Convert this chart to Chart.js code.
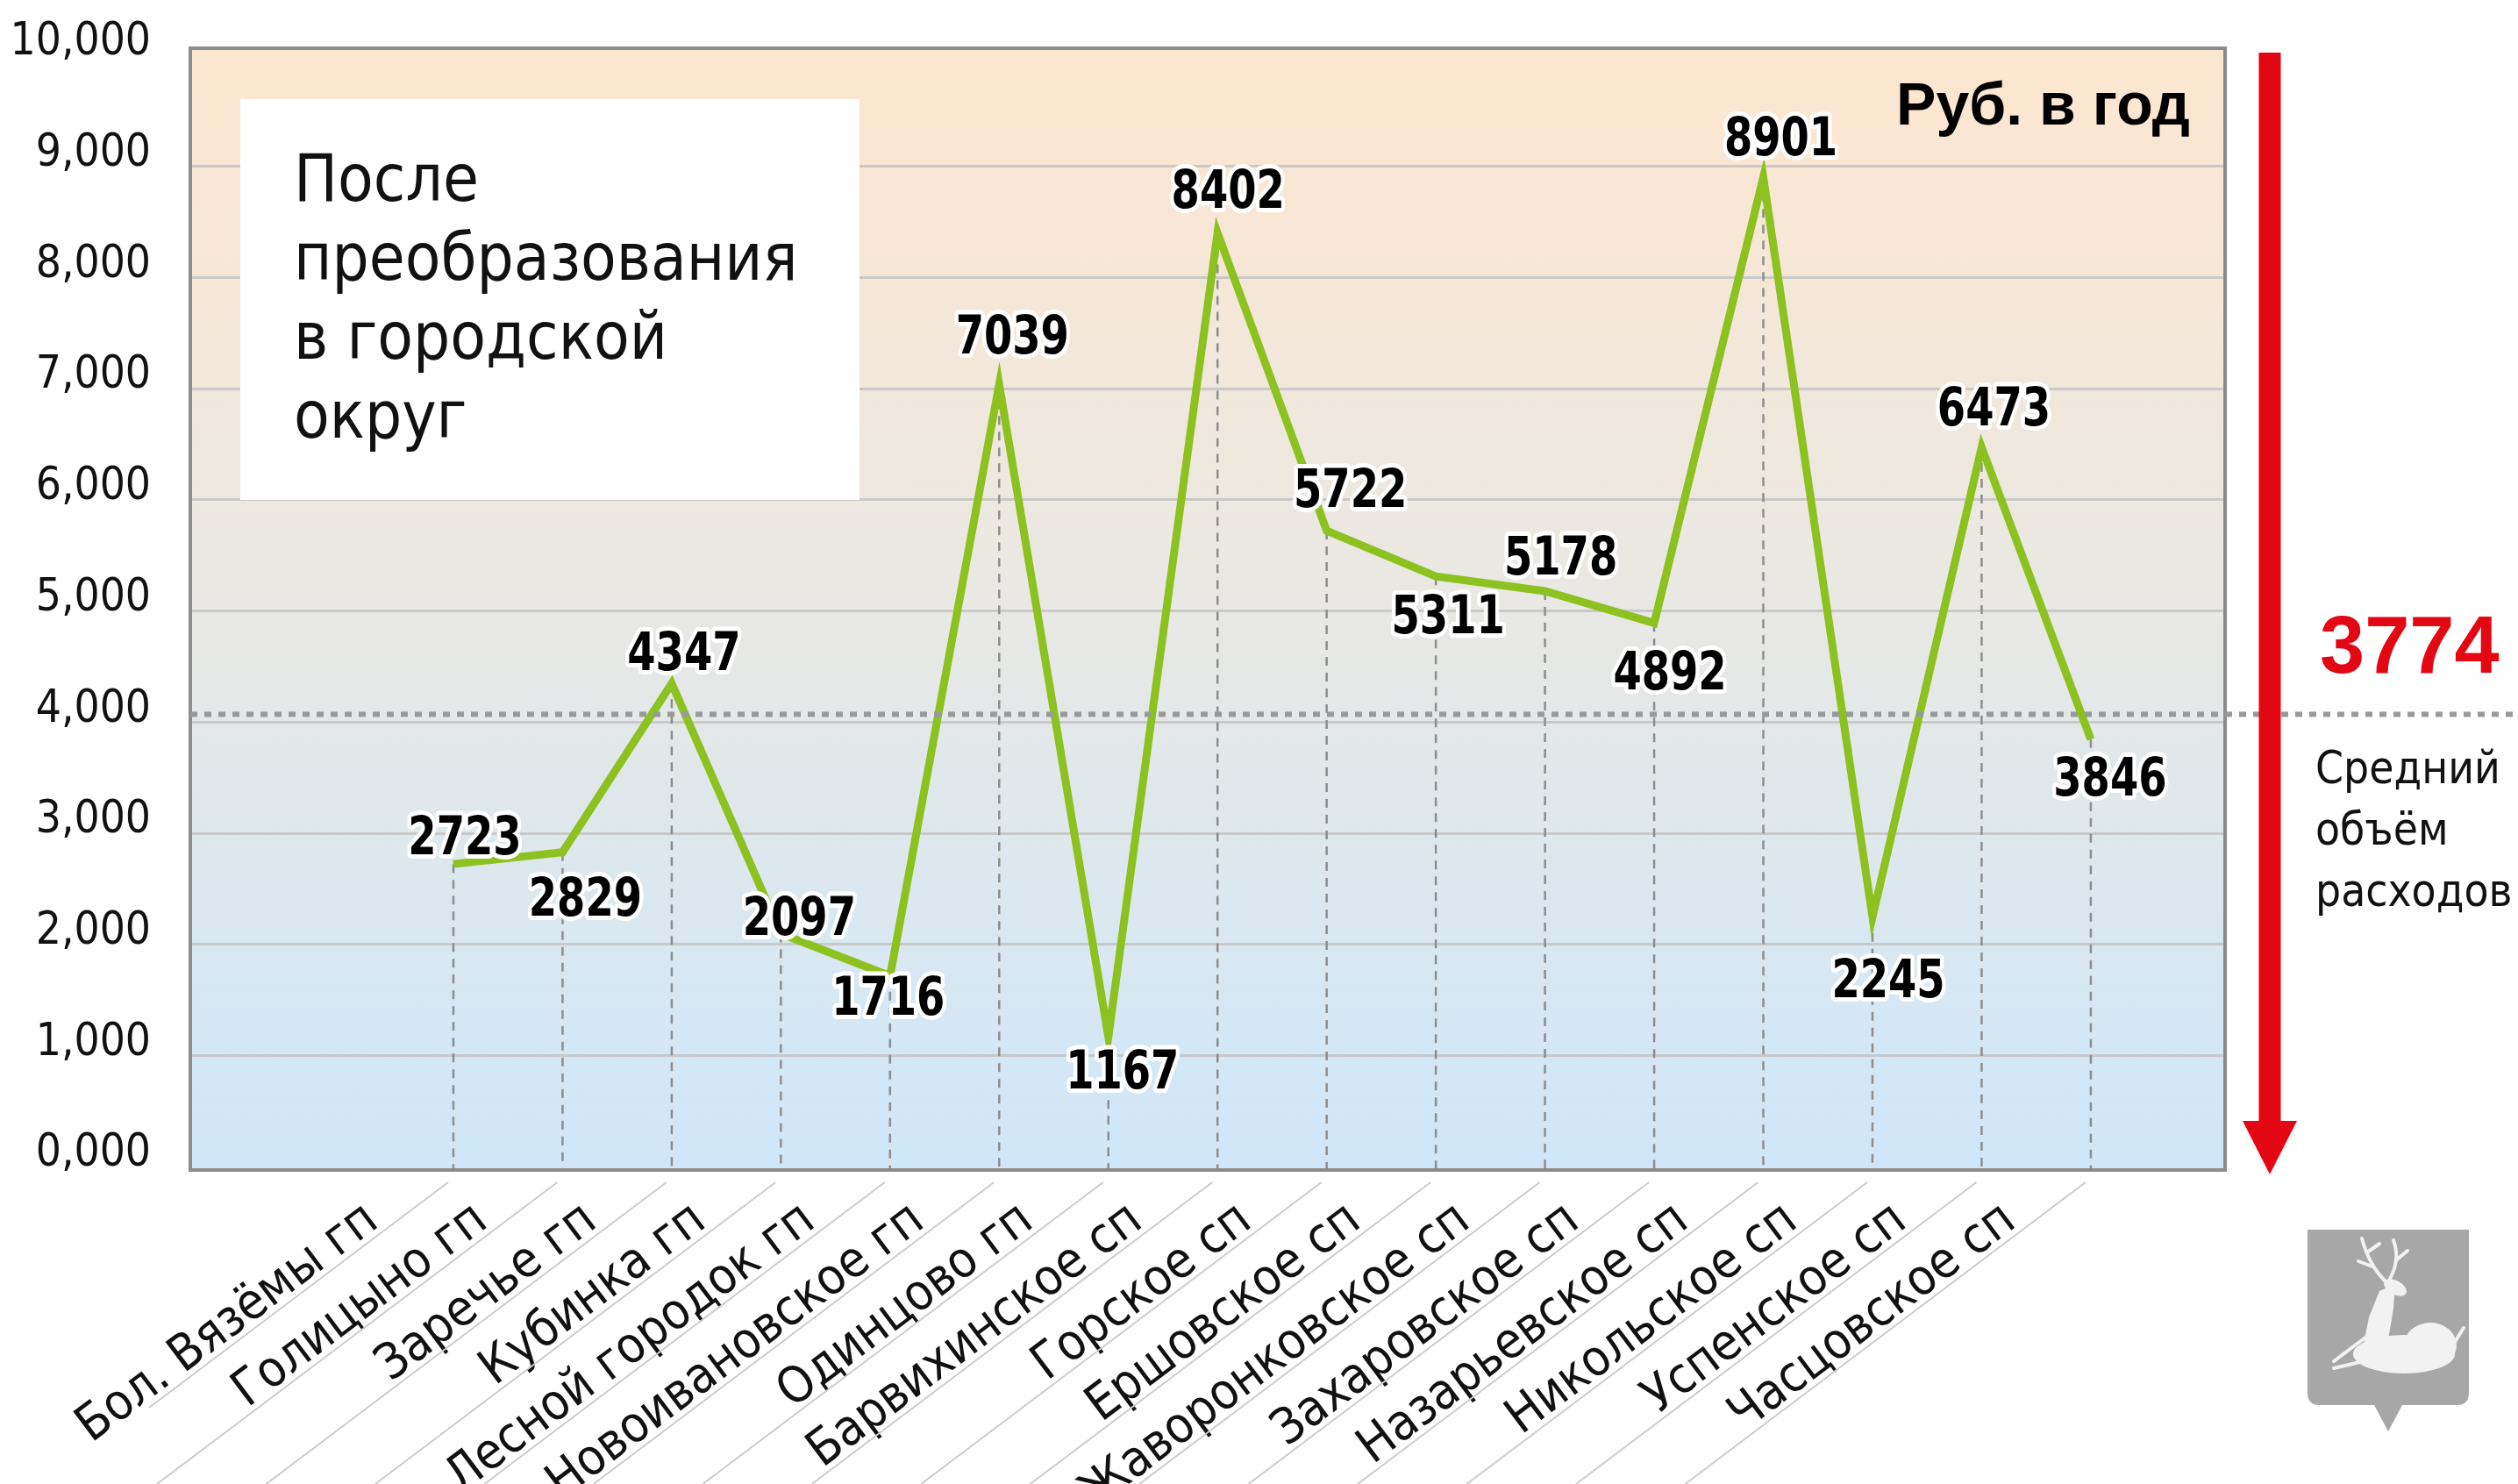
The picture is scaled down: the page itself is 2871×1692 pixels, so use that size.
<!DOCTYPE html>
<html>
<head>
<meta charset="utf-8">
<script src="https://cdn.jsdelivr.net/npm/chart.js@4.4.1/dist/chart.umd.min.js"></script>
<style>
    html, body { margin: 0; padding: 0; background: #fff; }
    #wrap { width: 2871px; height: 1692px; }
</style>
</head>
<body>
<div id="wrap"><canvas id="spendChart" width="2871" height="1692"></canvas></div>
<script>

    // =========================================
    // DATA
    // =========================================

    var categories = [
        "Бол. Вязёмы гп", "Голицыно гп", "Заречье гп", "Кубинка гп",
        "Лесной городок гп", "Новоивановское гп", "Одинцово гп", "Барвихинское сп",
        "Горское сп", "Ершовское сп", "Жаворонковское сп", "Захаровское сп",
        "Назарьевское сп", "Никольское сп", "Успенское сп", "Часцовское сп"
    ];

    var spending = [2723, 2829, 4347, 2097, 1716, 7039, 1167, 8402, 5722, 5311, 5178, 4892, 8901, 2245, 6473, 3846];

    var yTicks = [0, 1000, 2000, 3000, 4000, 5000, 6000, 7000, 8000, 9000, 10000];

    var averageText = "3774";
    var averageLineLevel = 4070;   // where the dotted line sits in the picture
    var averageCaption = ["Средний", "объём", "расходов"];
    var unitText = "Руб. в год";
    var boxLines = ["После", "преобразования", "в городской", "округ"];

    // label nudges in px (styling, not data)
    var labelNudge = [
        [13, -29], [26, 55], [14, -33], [21, -16], [-2, 27], [15, -53], [16, 41], [12, -46],
        [27, -45], [14, 47], [18, -37], [18, 58], [20, -43], [18, 74], [14, -43], [22, 47]
    ];

    var FONT = "'DejaVu Sans Condensed', 'DejaVu Sans', sans-serif";

    // =========================================
    // PLUGINS
    // =========================================

    var backgroundPlugin = {
        id: "backgroundPlugin",
        beforeDraw: function (chart) {
            var a = chart.chartArea;
            var ctx = chart.ctx;
            ctx.save();
            ctx.fillStyle = "#ffffff";
            ctx.fillRect(0, 0, chart.width, chart.height);
            var g = ctx.createLinearGradient(0, a.top, 0, a.bottom);
            g.addColorStop(0, "#fde6cf");
            g.addColorStop(0.45, "#ebe8e2");
            g.addColorStop(1, "#cfe7f9");
            ctx.fillStyle = g;
            ctx.fillRect(a.left, a.top, a.right - a.left, a.bottom - a.top);
            ctx.restore();
        }
    };

    var underlayPlugin = {
        id: "underlayPlugin",
        beforeDatasetsDraw: function (chart) {
            var a = chart.chartArea;
            var ctx = chart.ctx;
            var meta = chart.getDatasetMeta(0);

            ctx.save();

            // white caption box
            ctx.fillStyle = "#ffffff";
            ctx.fillRect(a.left + 57, a.top + 58, 706, 457);
            ctx.fillStyle = "#111111";
            ctx.font = "74px " + FONT;
            ctx.textAlign = "left";
            ctx.textBaseline = "alphabetic";
            boxLines.forEach(function (line, i) {
                ctx.fillText(line, a.left + 118, a.top + 174 + i * 90);
            });

            // dashed drop lines
            ctx.strokeStyle = "#8d8d8d";
            ctx.lineWidth = 2.5;
            ctx.setLineDash([10, 8]);
            meta.data.forEach(function (pt) {
                ctx.beginPath();
                ctx.moveTo(pt.x, pt.y);
                ctx.lineTo(pt.x, a.bottom);
                ctx.stroke();
            });
            ctx.setLineDash([]);

            ctx.restore();
        }
    };

    var overlayPlugin = {
        id: "overlayPlugin",
        afterDatasetsDraw: function (chart) {
            var a = chart.chartArea;
            var ctx = chart.ctx;
            var meta = chart.getDatasetMeta(0);
            var yScale = chart.scales.y;
            var xScale = chart.scales.x;

            ctx.save();

            // plot frame
            ctx.strokeStyle = "#8c8c8c";
            ctx.lineWidth = 4;
            ctx.strokeRect(a.left, a.top, a.right - a.left, a.bottom - a.top);

            // diagonal guide lines under category labels
            var ang = 37 * Math.PI / 180;
            ctx.strokeStyle = "#cccccc";
            ctx.lineWidth = 2;
            categories.forEach(function (c, i) {
                var x0 = xScale.getPixelForValue(i) - 6;
                var y0 = a.bottom + 14;
                var len = Math.min((chart.height - y0) / Math.sin(ang), (x0 - 170) / Math.cos(ang));
                ctx.beginPath();
                ctx.moveTo(x0, y0);
                ctx.lineTo(x0 - len * Math.cos(ang), y0 + len * Math.sin(ang));
                ctx.stroke();
            });

            // dotted average line
            var yAvg = yScale.getPixelForValue(averageLineLevel);
            ctx.strokeStyle = "#999999";
            ctx.lineWidth = 6;
            ctx.setLineDash([8, 8]);
            ctx.beginPath();
            ctx.moveTo(a.left, yAvg);
            ctx.lineTo(chart.width, yAvg);
            ctx.stroke();
            ctx.setLineDash([]);

            // value labels (bold, narrowed, white halo)
            ctx.font = "bold 60px " + FONT;
            ctx.textAlign = "center";
            ctx.textBaseline = "middle";
            ctx.lineJoin = "round";
            meta.data.forEach(function (pt, i) {
                var lx = pt.x + labelNudge[i][0];
                var ly = pt.y + labelNudge[i][1];
                ctx.save();
                ctx.translate(lx, ly);
                ctx.scale(0.86, 1);
                ctx.strokeStyle = "#ffffff";
                ctx.lineWidth = 10;
                ctx.strokeText(String(spending[i]), 0, 2);
                ctx.fillStyle = "#000000";
                ctx.fillText(String(spending[i]), 0, 2);
                ctx.restore();
            });

            // unit
            ctx.font = "bold 68px 'Liberation Sans', Arial, sans-serif";
            ctx.textAlign = "right";
            ctx.textBaseline = "alphabetic";
            ctx.fillStyle = "#000000";
            ctx.fillText(unitText, a.right - 40, a.top + 87);

            // red arrow
            var ax = a.right + 51;
            ctx.fillStyle = "#e30613";
            ctx.fillRect(ax - 12.5, a.top + 5, 25, a.bottom - 56 - a.top - 5);
            ctx.beginPath();
            ctx.moveTo(ax - 31, a.bottom - 56);
            ctx.lineTo(ax + 31, a.bottom - 56);
            ctx.lineTo(ax, a.bottom + 5);
            ctx.closePath();
            ctx.fill();

            // average value and caption
            ctx.font = "bold 92px 'Liberation Sans', Arial, sans-serif";
            ctx.textAlign = "left";
            ctx.fillStyle = "#e30613";
            ctx.fillText(averageText, a.right + 108, 767);

            ctx.font = "51px " + FONT;
            ctx.fillStyle = "#111111";
            averageCaption.forEach(function (line, i) {
                ctx.fillText(line, a.right + 103, 893 + i * 70);
            });

            // emblem
            drawEmblem(ctx, a.right + 94, 1402);

            ctx.restore();
        }
    };

    function drawEmblem(ctx, x, y) {
        var w = 184, h = 200;
        ctx.save();
        ctx.fillStyle = "#a7a7a7";
        ctx.beginPath();
        ctx.moveTo(x, y);
        ctx.lineTo(x + w, y);
        ctx.lineTo(x + w, y + h - 14);
        ctx.quadraticCurveTo(x + w, y + h, x + w - 14, y + h);
        ctx.lineTo(x + w / 2 + 16, y + h);
        ctx.lineTo(x + w / 2, y + h + 30);
        ctx.lineTo(x + w / 2 - 16, y + h);
        ctx.lineTo(x + 14, y + h);
        ctx.quadraticCurveTo(x, y + h, x, y + h - 14);
        ctx.closePath();
        ctx.fill();

        // simplified lying deer
        ctx.fillStyle = "#f2f2f2";
        ctx.strokeStyle = "#f2f2f2";
        ctx.lineCap = "round";
        ctx.beginPath();
        ctx.ellipse(x + 110, y + 142, 58, 22, 0, 0, Math.PI * 2);
        ctx.fill();
        ctx.beginPath();
        ctx.ellipse(x + 140, y + 132, 30, 26, 0, 0, Math.PI * 2);
        ctx.fill();
        ctx.beginPath();
        ctx.moveTo(x + 62, y + 140);
        ctx.lineTo(x + 70, y + 100);
        ctx.lineTo(x + 82, y + 70);
        ctx.lineTo(x + 100, y + 62);
        ctx.lineTo(x + 98, y + 90);
        ctx.lineTo(x + 92, y + 125);
        ctx.closePath();
        ctx.fill();
        ctx.beginPath();
        ctx.ellipse(x + 100, y + 66, 14, 8, 0.5, 0, Math.PI * 2);
        ctx.fill();
        ctx.lineWidth = 4;
        ctx.beginPath();
        ctx.moveTo(x + 88, y + 58);
        ctx.quadraticCurveTo(x + 70, y + 40, x + 62, y + 10);
        ctx.moveTo(x + 74, y + 42);
        ctx.lineTo(x + 58, y + 36);
        ctx.moveTo(x + 68, y + 26);
        ctx.lineTo(x + 82, y + 16);
        ctx.moveTo(x + 94, y + 56);
        ctx.quadraticCurveTo(x + 106, y + 34, x + 98, y + 12);
        ctx.moveTo(x + 102, y + 34);
        ctx.lineTo(x + 114, y + 24);
        ctx.moveTo(x + 64, y + 150);
        ctx.lineTo(x + 30, y + 158);
        ctx.moveTo(x + 70, y + 120);
        ctx.lineTo(x + 30, y + 150);
        ctx.moveTo(x + 168, y + 128);
        ctx.lineTo(x + 178, y + 112);
        ctx.stroke();
        ctx.restore();
    }

    // =========================================
    // CHART
    // =========================================

    var canvas = document.getElementById("spendChart");

    var spendChart = new Chart(canvas, {

        type: "line",

        data: {
            datasets: [{
                data: spending.map(function (v, i) { return { x: i, y: v }; }),
                borderColor: "#8dc11f",
                borderWidth: 9,
                borderJoinStyle: "miter",
                borderCapStyle: "butt",
                pointRadius: 0,
                pointHoverRadius: 0,
                tension: 0,
                fill: false
            }]
        },

        options: {
            responsive: false,
            maintainAspectRatio: false,
            animation: false,
            devicePixelRatio: 1,
            events: [],

            layout: {
                padding: { top: 55, right: 334, bottom: 0, left: 0 }
            },

            plugins: {
                legend: { display: false },
                tooltip: { enabled: false },
                title: { display: false }
            },

            scales: {
                x: {
                    type: "linear",
                    position: "bottom",
                    min: -2.41,
                    max: 16.23,
                    afterBuildTicks: function (scale) {
                        scale.ticks = categories.map(function (c, i) { return { value: i }; });
                    },
                    afterFit: function (scale) {
                        scale.height = 1692 - 1334;
                        scale.paddingLeft = 0;
                        scale.paddingRight = 0;
                    },
                    ticks: {
                        autoSkip: false,
                        minRotation: 37,
                        maxRotation: 37,
                        padding: 24,
                        labelOffset: -92,
                        color: "#111111",
                        font: { family: FONT, size: 57 },
                        callback: function (value) {
                            return categories[value] !== undefined ? categories[value] : "";
                        }
                    },
                    grid: { display: false, drawTicks: false },
                    border: { display: false }
                },

                y: {
                    type: "linear",
                    position: "left",
                    min: -30,
                    max: 10063,
                    afterBuildTicks: function (scale) {
                        scale.ticks = yTicks.map(function (v) { return { value: v }; });
                    },
                    afterFit: function (scale) {
                        scale.width = 217;
                        scale.paddingTop = 0;
                        scale.paddingBottom = 0;
                    },
                    ticks: {
                        padding: 45,
                        labelOffset: -14,
                        color: "#111111",
                        font: { family: FONT, size: 51 },
                        callback: function (value) {
                            return (value / 1000) + ",000";
                        }
                    },
                    grid: {
                        drawTicks: false,
                        lineWidth: 3,
                        color: function (ctx) {
                            var v = ctx.tick ? ctx.tick.value : null;
                            return (v === 0 || v === 10000) ? "rgba(0,0,0,0)" : "#c9c9c9";
                        }
                    },
                    border: { display: false }
                }
            }
        },

        plugins: [backgroundPlugin, underlayPlugin, overlayPlugin]
    });

</script>
</body>
</html>
